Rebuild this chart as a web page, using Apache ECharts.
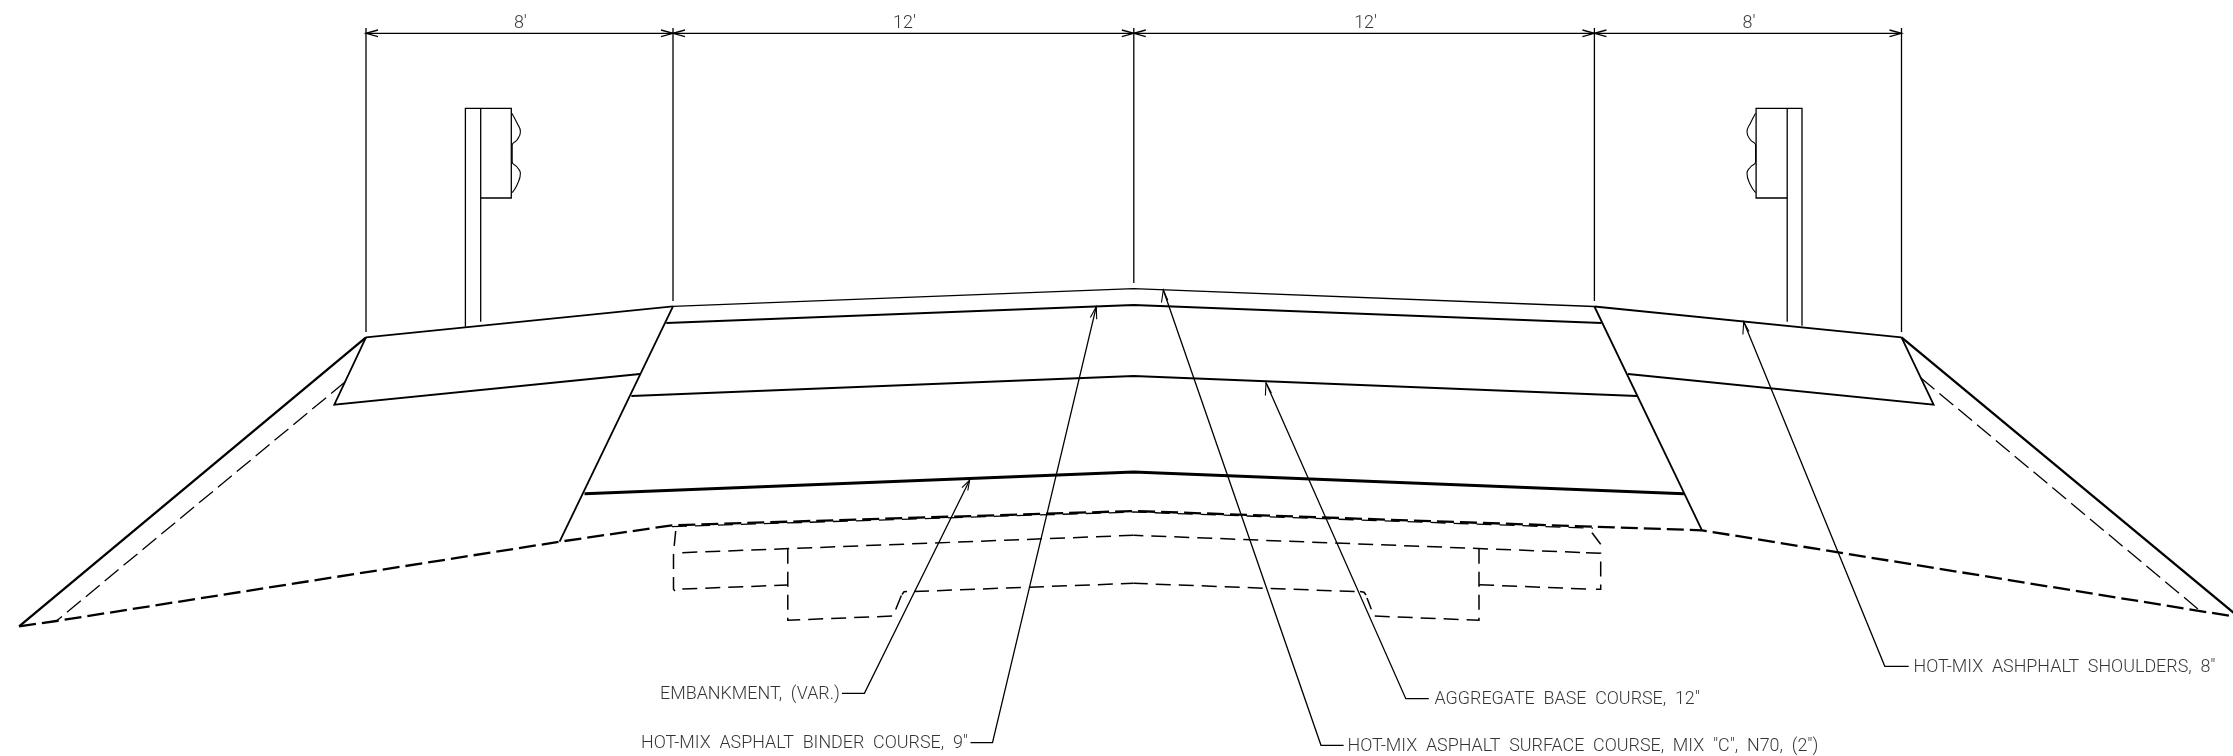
<!DOCTYPE html>
<html>
<head>
<meta charset="utf-8">
<style>html,body{margin:0;padding:0;background:#fff}#c{width:2233px;height:756px}</style>
<script src="https://cdn.jsdelivr.net/npm/echarts@6/dist/echarts.min.js"></script>
</head>
<body>
<div id="c"></div>
<script>
// Drawing coordinates [x, y]
const surfaceShoulderL = [[366,337.3],[673,306.3]];
const surfaceShoulderR = [[1594.4,306.5],[1901.5,337.3]];
const surfaceLanes = [[673,306.3],[1133.6,288.7],[1594.4,306.5]];
const binderTop = [[666.3,323],[1133.6,305],[1601.6,323]];
const baseTop = [[631.4,396],[1133.6,376],[1637,396]];
const baseBottom = [[584.5,493.7],[1133.6,472],[1683.9,493.7]];
const shoulderL = [[366,337.3],[334.3,404.7],[640,374]];
const shoulderR = [[1901.5,337.3],[1933.6,404.7],[1628,374]];
const pavementEdgeL = [[673,306.3],[559.6,541.7]];
const pavementEdgeR = [[1594.4,306.5],[1702,530.3]];
const slopeL = [[366,337.3],[19.1,626.3]];
const slopeR = [[1901.5,337.3],[2240,618]];

const subgradeMain = [[19.1,626.3],[56.4,621],[559.6,541.7],[672,525.3],[1133.6,511],[1593,526.7],[1702,530.3],[2240,617.5]];
const subgradeOverlay = [[672,526.6],[1133.6,512],[1593,528.2]];

const slopeDashL = [[345,382],[56.4,621]];
const slopeDashR = [[1920.6,377.7],[2198,609]];
const trenchTopL = [[682.3,552.7],[1133.6,535.3]];
const trenchTopR = [[1580,552.4],[1133.6,535.3]];
const trenchLeft = [[675.7,531],[673.5,552.7],[673.5,589.3],[675,591]];
const trenchLowerL = [[682.3,589],[787.8,585]];
const trenchStepL = [[787.8,548.7],[787.8,620.3],[893,616],[902,594]];
const trenchHookL = [[902,594.5],[904,591.8],[907,591.4]];
const trenchCoreL = [[914,591.5],[1133.6,583.3]];
const trenchCoreR = [[1354.6,591.6],[1133.6,583.3]];
const trenchHookR = [[1360,591.6],[1364,592.2],[1366,595]];
const trenchStepR = [[1479,548.7],[1479,620.3],[1374,616],[1367,598]];
const trenchLowerR = [[1586,589],[1479,584.7]];
const trenchRight = [[1586,552.7],[1600.7,553.3],[1600.7,589.3],[1596,589.3]];
const trenchDiagR = [[1592,532.7],[1600.7,544.3]];

const extensions = [
  [[366,28],[366,332]], [[673,28],[673,301]], [[1133.8,28],[1133.8,283]],
  [[1594.4,28],[1594.4,301]], [[1901.5,28],[1901.5,332]]
];
const dimensionLine = [[366,33.3],[1901.5,33.3]];
const dimensionHeads = [
  [[378,30],[366,33.3],[378,36.6]],
  [[661,30],[673,33.3],[661,36.6]], [[685,30],[673,33.3],[685,36.6]],
  [[1121.8,30],[1133.8,33.3],[1121.8,36.6]], [[1145.8,30],[1133.8,33.3],[1145.8,36.6]],
  [[1582.4,30],[1594.4,33.3],[1582.4,36.6]], [[1606.4,30],[1594.4,33.3],[1606.4,36.6]],
  [[1889.5,30],[1901.5,33.3],[1889.5,36.6]]
];

const postL = [[465.4,326.7],[465.4,108.3],[511.3,108.3],[511.3,198],[480.7,198]];
const postLInner = [[480.7,108.3],[480.7,321.7]];
const postR = [[1802,325.7],[1802,108.3],[1756.1,108.3],[1756.1,198],[1787.2,198]];
const postRInner = [[1787.2,108.3],[1787.2,321.7]];
const railL = [[511.8,113.3],[517,123],[520.4,131.7],[517,140],[512.2,145],[512.2,161.7],[517,167],[520.4,173.3],[517,185],[512.2,192.7]];
const railR = [[1755.6,113.3],[1750.5,123],[1747,131.7],[1750.5,140],[1755.6,145],[1755.6,161.7],[1750.5,167],[1747,173.3],[1750.5,185],[1755.6,192.7]];

const leaderEmbankment = [[841.9,693.3],[864.4,693.3],[969.6,480.3]];
const leaderBinder = [[970.5,742.7],[992.5,742.7],[1096.3,306.7]];
const leaderSurface = [[1343.6,745.3],[1321,745.3],[1163.3,290]];
const leaderAggregate = [[1428.8,698.7],[1405.8,698.7],[1266,382.7]];
const leaderShoulders = [[1908.7,666.3],[1884.8,666.3],[1743.7,321.7]];
const leaderHeads = [
  [[961.9,487.6],[969.6,480.3],[967.8,490.5]],
  [[1090.3,317.6],[1096.3,306.7],[1096.7,319.2]],
  [[1161.5,302.5],[1163.3,290],[1167.8,300.3]],
  [[1265.4,395.5],[1266,382.7],[1271.4,392.9]],
  [[1742.9,334.5],[1743.7,321.7],[1749,331.6]]
];

const dimensionLabels = [["8'",520.4,23.3],["12'",904.5,23.3],["12'",1365.6,23.3],["8'",1749,23.3]];
const calloutLabels = [
  ["EMBANKMENT,  (VAR.)",660,694.2],
  ["HOT-MIX  ASPHALT  BINDER  COURSE,  9\"",641,744],
  ["AGGREGATE  BASE  COURSE,  12\"",1434.5,699.5],
  ["HOT-MIX  ASPHALT  SURFACE  COURSE,  MIX  \"C\",  N70,  (2\")",1347.5,746.5],
  ["HOT-MIX  ASHPHALT  SHOULDERS,  8\"",1913.5,667.3]
];

const HEAVY = 2.9, THICK = 2.3, MEDIUM = 1.8, THIN = 1.3;
const DASH_HEAVY = [17,6], DASH_TRENCH = [15,8], DASH_SLOPE = [18,6.5];

function polyline(points, width, dash, smooth) {
  return {
    type: 'line', data: points, showSymbol: false, symbol: 'none', smooth: !!smooth,
    silent: true, animation: false, clip: true,
    lineStyle: { color: '#000', width: width, type: dash || 'solid', join: 'miter', cap: 'butt' }
  };
}
function labels(rows, position, size) {
  return {
    type: 'scatter', symbolSize: 0, silent: true, animation: false,
    data: rows.map(r => ({ value: [r[1], r[2]], name: r[0] })),
    label: {
      show: true, position: position, distance: 0, formatter: p => p.name,
      fontFamily: 'Roboto, sans-serif', fontWeight: 300,
      fontSize: size, color: '#000'
    }
  };
}

const series = [];
[surfaceShoulderL, surfaceShoulderR, binderTop, shoulderL, shoulderR].forEach(p => series.push(polyline(p, MEDIUM)));
[baseTop, pavementEdgeL, pavementEdgeR].forEach(p => series.push(polyline(p, MEDIUM)));
series.push(polyline(baseBottom, HEAVY));
[slopeL, slopeR].forEach(p => series.push(polyline(p, THICK)));
series.push(polyline(surfaceLanes, THIN));
series.push(polyline(subgradeMain, THICK, DASH_HEAVY));
series.push(polyline(subgradeOverlay, THIN, DASH_TRENCH));
[slopeDashL, slopeDashR].forEach(p => series.push(polyline(p, THIN, DASH_SLOPE)));
[trenchTopL, trenchTopR, trenchLeft, trenchLowerL, trenchStepL, trenchCoreL, trenchCoreR, trenchStepR, trenchLowerR, trenchRight, trenchDiagR]
  .forEach(p => series.push(polyline(p, 1.5, DASH_TRENCH)));
[trenchHookL, trenchHookR].forEach(p => series.push(polyline(p, 1.5)));
extensions.forEach(p => series.push(polyline(p, THIN)));
series.push(polyline(dimensionLine, THIN));
dimensionHeads.forEach(p => series.push(polyline(p, THIN)));
[postL, postLInner, postR, postRInner].forEach(p => series.push(polyline(p, THIN)));
[railL, railR].forEach(p => series.push(polyline(p, 1.1, null, true)));
[leaderEmbankment, leaderBinder, leaderSurface, leaderAggregate, leaderShoulders].forEach(p => series.push(polyline(p, THIN)));
leaderHeads.forEach(p => series.push(polyline(p, 1.1)));
series.push(labels(dimensionLabels, 'inside', 17.9));
series.push(labels(calloutLabels, 'right', 17.9));

const chart = echarts.init(document.getElementById('c'), null, { renderer: 'canvas' });
chart.setOption({
  backgroundColor: '#fff',
  animation: false,
  grid: { left: 0, right: 0, top: 0, bottom: 0 },
  xAxis: { type: 'value', min: 0, max: 2233, show: false },
  yAxis: { type: 'value', min: 0, max: 756, inverse: true, show: false },
  series: series
});
</script>
</body>
</html>
